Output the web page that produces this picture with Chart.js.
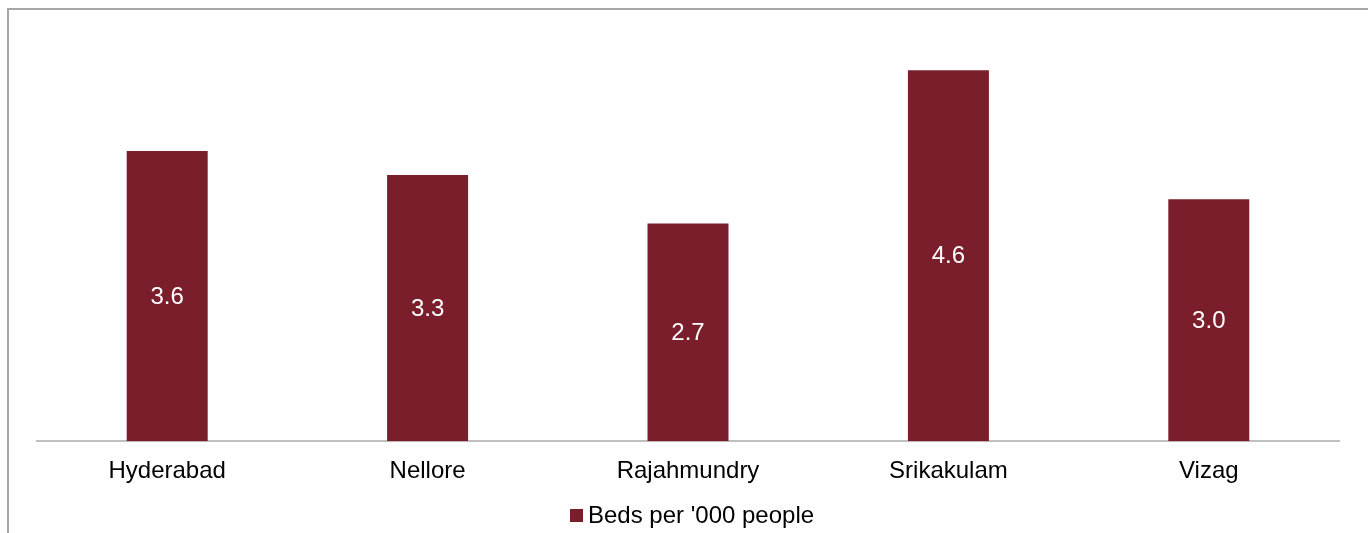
<!DOCTYPE html>
<html>
<head>
<meta charset="utf-8">
<script src="https://cdn.jsdelivr.net/npm/chart.js@4/dist/chart.umd.min.js"></script>
<style>
  html, body { margin: 0; padding: 0; background: #ffffff; }
  #wrap { position: relative; width: 1368px; height: 533px; }
</style>
</head>
<body>
<div id="wrap"><canvas id="chart" width="1368" height="533"></canvas></div>
<script>
// Hospital beds per thousand people, by city
const cities = ['Hyderabad', 'Nellore', 'Rajahmundry', 'Srikakulam', 'Vizag'];
const bedsPerThousand = [3.6, 3.3, 2.7, 4.6, 3.0];
const seriesName = "Beds per '000 people";

const FONT = "'Liberation Sans', Arial, sans-serif";
const BAR_COLOR = '#7B1E2B';

// Frame lines along the top and left edges
const framePlugin = {
  id: 'frame',
  beforeDraw(chart) {
    const ctx = chart.ctx;
    ctx.save();
    ctx.strokeStyle = '#a6a6a6';
    ctx.lineWidth = 2;
    ctx.beginPath();
    ctx.moveTo(8, chart.height);
    ctx.lineTo(8, 9);
    ctx.lineTo(chart.width, 9);
    ctx.stroke();
    ctx.restore();
  }
};

// Value labels centred inside each bar
const valueLabels = {
  id: 'valueLabels',
  afterDatasetsDraw(chart) {
    const ctx = chart.ctx;
    ctx.save();
    ctx.fillStyle = '#ffffff';
    ctx.font = '24px ' + FONT;
    ctx.textAlign = 'center';
    ctx.textBaseline = 'middle';
    chart.data.datasets.forEach((ds, di) => {
      chart.getDatasetMeta(di).data.forEach((bar, i) => {
        const v = ds.data[i];
        ctx.fillText(v.toFixed(1), bar.x, (bar.y + bar.base) / 2 + 1);
      });
    });
    ctx.restore();
  }
};

// Compact legend below the axis labels
const bottomLegend = {
  id: 'bottomLegend',
  afterDraw(chart) {
    const ctx = chart.ctx;
    const ds = chart.data.datasets[0];
    ctx.save();
    ctx.font = '24px ' + FONT;
    const tw = ctx.measureText(ds.label).width;
    const box = 13, gap = 5;
    const total = box + gap + tw;
    const cx = (chart.chartArea.left + chart.chartArea.right) / 2 + 4;
    const x0 = Math.round(cx - total / 2);
    const yMid = 516;
    ctx.fillStyle = ds.backgroundColor;
    ctx.fillRect(x0, yMid - 7, box, box);
    ctx.fillStyle = '#000000';
    ctx.textAlign = 'left';
    ctx.textBaseline = 'middle';
    ctx.fillText(ds.label, x0 + box + gap, yMid);
    ctx.restore();
  }
};

new Chart(document.getElementById('chart'), {
  type: 'bar',
  data: {
    labels: cities,
    datasets: [{
      label: seriesName,
      data: bedsPerThousand,
      backgroundColor: BAR_COLOR,
      borderWidth: 0,
      categoryPercentage: 1.0,
      barPercentage: 0.311
    }]
  },
  options: {
    responsive: false,
    animation: false,
    devicePixelRatio: 1,
    layout: { padding: { left: 37, right: 29, top: 38, bottom: 31 } },
    plugins: {
      legend: { display: false },
      tooltip: { enabled: false }
    },
    scales: {
      x: {
        grid: { display: false, drawTicks: false },
        border: { display: true, color: '#bfbfbf', width: 2 },
        ticks: { color: '#000000', font: { family: FONT, size: 24 }, padding: 16 }
      },
      y: {
        display: false,
        min: 0,
        max: 5
      }
    }
  },
  plugins: [framePlugin, valueLabels, bottomLegend]
});
</script>
</body>
</html>
